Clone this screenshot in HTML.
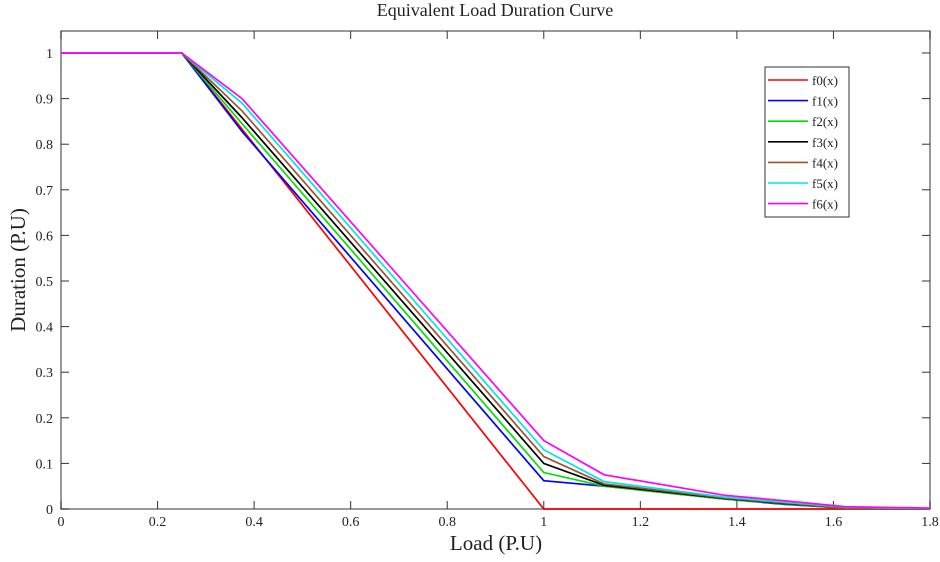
<!DOCTYPE html>
<html><head><meta charset="utf-8"><style>
body{margin:0;background:#fff;}
text{font-family:"Liberation Serif",serif;fill:#222;}
</style></head><body>
<svg id="chart" width="940" height="557" xmlns="http://www.w3.org/2000/svg">
<text x="495" y="16" font-size="18" text-anchor="middle">Equivalent Load Duration Curve</text>
<text x="496" y="550" font-size="21" text-anchor="middle">Load (P.U)</text>
<text transform="translate(25,270) rotate(-90)" font-size="21" text-anchor="middle">Duration (P.U)</text>
<g id="axes"></g>
<g id="series"></g>
<g id="legend"></g>
</svg>
<script>
const xs = [0, 0.25, 0.375, 1.0, 1.125, 1.375, 1.5, 1.625, 1.8];
const f0 = [1, 1, 0.833, 0, 0, 0, 0, 0, 0];
const f1 = [1, 1, 0.828, 0.062, 0.05, 0.022, 0.01, 0.002, 0];
const f2 = [1, 1, 0.845, 0.08, 0.05, 0.022, 0.011, 0.002, 0];
const f3 = [1, 1, 0.858, 0.1, 0.052, 0.023, 0.012, 0.003, 0];
const f4 = [1, 1, 0.873, 0.115, 0.055, 0.024, 0.013, 0.003, 0];
const f5 = [1, 1, 0.89, 0.13, 0.06, 0.026, 0.015, 0.004, 0.001];
const f6 = [1, 1, 0.9, 0.15, 0.075, 0.03, 0.018, 0.005, 0.002];
const seriesNames = ["f0(x)","f1(x)","f2(x)","f3(x)","f4(x)","f5(x)","f6(x)"];
const seriesColors = ["#ff0000","#0000ff","#00e000","#000000","#a0522d","#00e5e5","#ff00ff"];
const xTicks = [0,0.2,0.4,0.6,0.8,1,1.2,1.4,1.6,1.8];
const yTicks = [0,0.1,0.2,0.3,0.4,0.5,0.6,0.7,0.8,0.9,1];
const allSeries=[f0,f1,f2,f3,f4,f5,f6];
const L=61,R=930,T=31,B=509;
const X=v=>L+v/1.8*(R-L);
const Y=v=>B-v*456;
const NS="http://www.w3.org/2000/svg";
function mk(tag,attrs,parent){const e=document.createElementNS(NS,tag);for(const k in attrs)e.setAttribute(k,attrs[k]);parent.appendChild(e);return e;}
const ax=document.getElementById('axes');
const frame=mk('rect',{x:L,y:T,width:R-L,height:B-T,fill:'none',stroke:'#777','stroke-width':1.5},ax);


xTicks.forEach(t=>{
  const x=X(t);
  mk('line',{x1:x,x2:x,y1:B,y2:B-8,stroke:'#333'},ax);
  mk('line',{x1:x,x2:x,y1:T,y2:T+8,stroke:'#333'},ax);
  const tx=mk('text',{x:x,y:B+17,'font-size':14,'text-anchor':'middle'},ax);
  tx.textContent=String(t);
  
  
});
yTicks.forEach(t=>{
  const y=Y(t);
  mk('line',{x1:L,x2:L+8,y1:y,y2:y,stroke:'#333'},ax);
  mk('line',{x1:R,x2:R-8,y1:y,y2:y,stroke:'#333'},ax);
  const tx=mk('text',{x:L-8,y:y+5,'font-size':14,'text-anchor':'end'},ax);
  tx.textContent=String(t);
  
  
});
const sg=document.getElementById('series');
allSeries.forEach((s,i)=>{
  const p=mk('polyline',{points:s.map((v,j)=>X(xs[j])+','+Y(v)).join(' '),fill:'none',stroke:seriesColors[i],'stroke-width':1.7},sg);
  
  
});
const lg=document.getElementById('legend');
const box=mk('rect',{x:765,y:67,width:84,height:150,fill:'#fff',stroke:'#333'},lg);


seriesNames.forEach((n,i)=>{
  const y=80+i*20.6;
  mk('line',{x1:768,x2:808,y1:y,y2:y,stroke:seriesColors[i],'stroke-width':1.6},lg);
  const t=mk('text',{x:812,y:y+5,'font-size':13},lg);
  t.textContent=n;
  
  
});
</script>
</body></html>
